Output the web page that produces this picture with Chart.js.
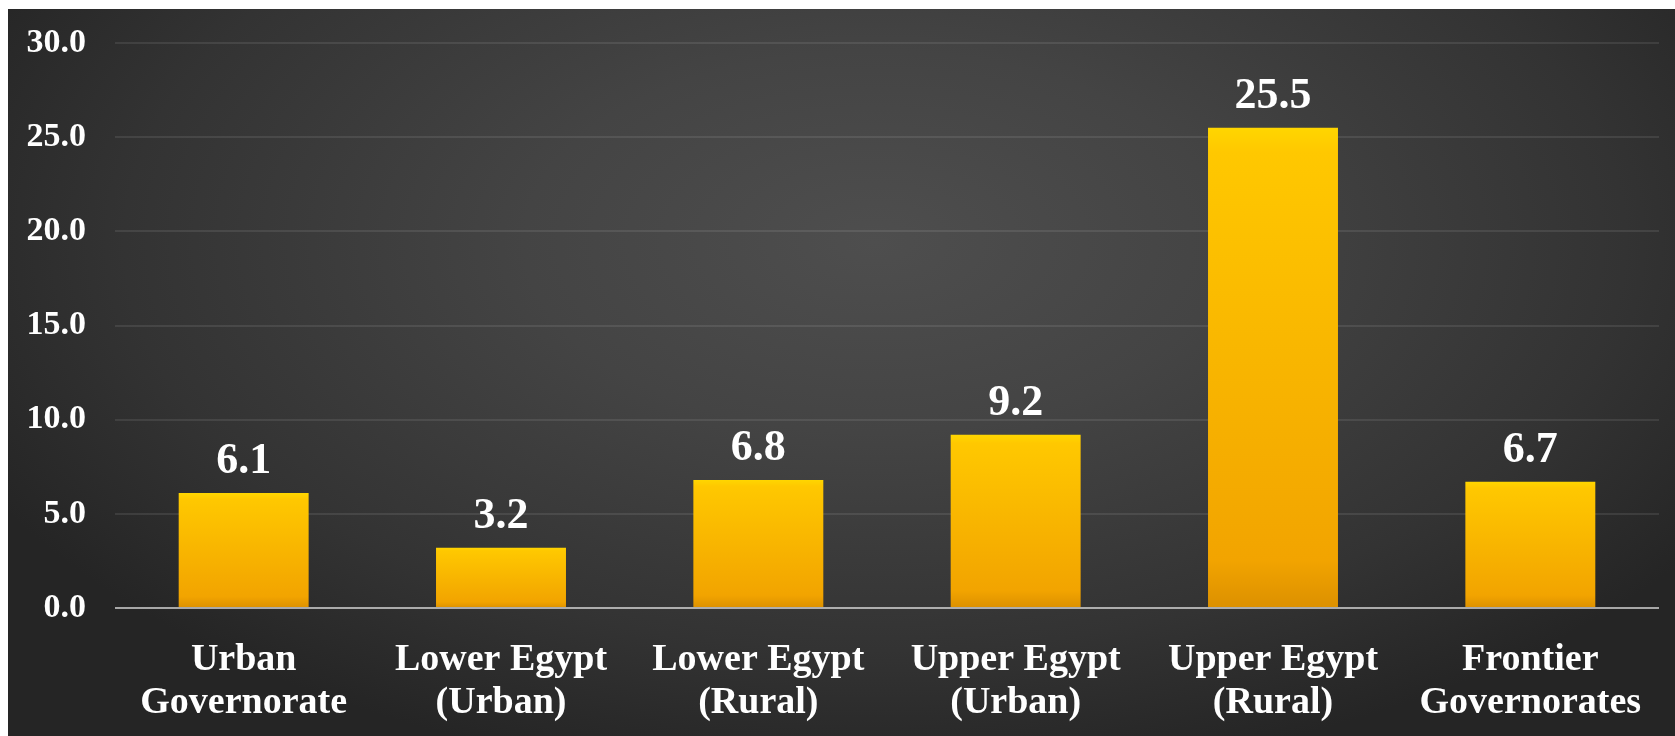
<!DOCTYPE html>
<html>
<head>
<meta charset="utf-8">
<script src="https://cdn.jsdelivr.net/npm/chart.js@4"></script>
<style>
  html, body { margin: 0; padding: 0; background: #fff; }
  #wrap {
    position: absolute; left: 8px; top: 9px; width: 1667px; height: 727px;
    background: radial-gradient(ellipse 60% 75% at 52% 32%, #4e4e4e 0%, #444 35%, #333 75%, #252525 100%);
  }
</style>
</head>
<body>
<div id="wrap"><canvas id="barChart" width="1667" height="727"></canvas></div>
<script>
// Categorias e valores
const categorias = [
  ["Urban", "Governorate"],
  ["Lower Egypt", "(Urban)"],
  ["Lower Egypt", "(Rural)"],
  ["Upper Egypt", "(Urban)"],
  ["Upper Egypt", "(Rural)"],
  ["Frontier", "Governorates"]
];
const valores = [6.1, 3.2, 6.8, 9.2, 25.5, 6.7];
const ticksY = [0, 5, 10, 15, 20, 25, 30];

const fonte = "'Liberation Serif', 'Times New Roman', serif";

// Gradiente de cada barra (topo amarelo -> base laranja)
function corBarra(context) {
  const chart = context.chart;
  const { ctx, chartArea } = chart;
  if (!chartArea) return "#FFC000";
  const y = chart.scales.y;
  const topo = y.getPixelForValue(context.raw);
  const base = y.getPixelForValue(0);
  const g = ctx.createLinearGradient(0, topo, 0, base);
  g.addColorStop(0, "#FFD600");
  g.addColorStop(0.05, "#FFC800");
  g.addColorStop(0.9, "#F2A400");
  g.addColorStop(1, "#DC9000");
  return g;
}

// Rótulos de valor acima das barras
const rotulos = {
  id: "rotulos",
  afterDatasetsDraw(chart) {
    const ctx = chart.ctx;
    const meta = chart.getDatasetMeta(0);
    ctx.save();
    ctx.fillStyle = "#fff";
    ctx.font = "bold 44px " + fonte;
    ctx.textAlign = "center";
    ctx.textBaseline = "alphabetic";
    meta.data.forEach((bar, i) => {
      ctx.fillText(valores[i].toFixed(1), bar.x, bar.y - 20);
    });
    ctx.restore();
  }
};

new Chart(document.getElementById("barChart").getContext("2d"), {
  type: "bar",
  data: {
    labels: categorias,
    datasets: [{
      data: valores,
      backgroundColor: corBarra,
      borderWidth: 0,
      categoryPercentage: 1,
      barPercentage: 0.505
    }]
  },
  options: {
    responsive: false,
    animation: false,
    layout: { padding: { left: 0, right: 16, top: 34, bottom: 0 } },
    plugins: { legend: { display: false }, tooltip: { enabled: false } },
    scales: {
      x: {
        grid: { display: false },
        border: { display: false },
        ticks: {
          color: "#fff",
          font: { family: fonte, size: 38, weight: "bold", lineHeight: 1.15 },
          padding: 22,
          maxRotation: 0,
          autoSkip: false
        },
        afterFit(scale) { scale.height = 128; }
      },
      y: {
        min: 0,
        max: 30,
        afterBuildTicks(scale) { scale.ticks = ticksY.map(v => ({ value: v })); },
        grid: {
          drawTicks: false,
          lineWidth: 2,
          color: c => c.tick.value === 0 ? "rgba(255,255,255,0.6)" : "rgba(255,255,255,0.09)"
        },
        border: { display: false },
        ticks: {
          color: "#fff",
          font: { family: fonte, size: 34, weight: "bold" },
          padding: 29,
          callback: v => v.toFixed(1)
        },
        afterFit(scale) {
          scale.width = 107;
          scale.paddingTop = 20;
          scale.paddingBottom = 20;
        }
      }
    }
  },
  plugins: [rotulos]
});
</script>
</body>
</html>
